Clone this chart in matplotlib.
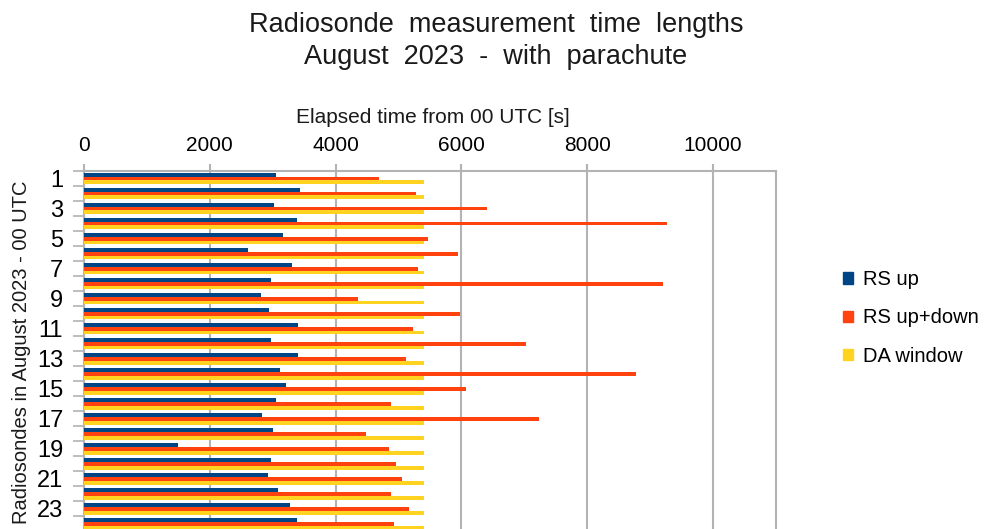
import matplotlib
matplotlib.use("Agg")
import matplotlib.pyplot as plt
from matplotlib.patches import Patch
import numpy as np

# ---- data ----
radiosondes = list(range(1, 25))
rs_up = [3050, 3430, 3020, 3380, 3160, 2610, 3300, 2970, 2810, 2940, 3400, 2970,
         3400, 3110, 3210, 3050, 2830, 3000, 1500, 2970, 2920, 3080, 3270, 3380]
rs_updown = [4690, 5280, 6400, 9260, 5470, 5940, 5310, 9210, 4360, 5970, 5230, 7030,
             5120, 8770, 6080, 4880, 7240, 4490, 4850, 4960, 5060, 4880, 5170, 4930]
da_window = [5400] * 24

series_names = ["RS up", "RS up+down", "DA window"]
colores = ["#004586", "#ff420e", "#ffd320"]

plt.rcParams["font.family"] = ["Liberation Sans", "DejaVu Sans"]

W, H = 987, 529
fig = plt.figure(figsize=(W / 100, H / 100), dpi=100)

# caja de ejes en pixeles: x 84..776, y 170.7..531 (abajo queda cortado)
left, right, top, bottom = 84, 776, 170.7, 531
ax = fig.add_axes([left / W, 1 - bottom / H, (right - left) / W, (bottom - top) / H])

y = np.array(radiosondes, dtype=float)
h = 0.26
for i, (vals, col) in enumerate(zip([rs_up, rs_updown, da_window], colores)):
    ax.barh(y + (i - 1) * h + 0.02, vals, height=h, color=col, zorder=3)

grid_col = "#b3b3b3"
ax.set_xlim(0, 11000)
ax.set_ylim(24.5, 0.5)
ax.xaxis.tick_top()
ax.set_xticks(range(0, 11000, 2000))
ax.tick_params(axis="x", which="major", length=5, width=1.5, color=grid_col,
               labelsize=15, pad=6)
ax.grid(axis="x", color=grid_col, linewidth=1.5, zorder=0)

ax.set_yticks(radiosondes[::2])
ax.set_yticklabels([str(v) for v in radiosondes[::2]])
ax.set_yticks(np.arange(0.5, 25, 1), minor=True)
ax.tick_params(axis="y", which="major", length=0, labelsize=17, pad=15)
ax.tick_params(axis="y", which="minor", length=8, width=1.2, color=grid_col)

for s in ax.spines.values():
    s.set_color(grid_col)
    s.set_linewidth(1.5)

# titulos de ejes
fig.text(433 / W, 1 - 123 / H, "Elapsed time from 00 UTC [s]", ha="center",
         va="baseline", fontsize=15, color="#1a1a1a")
fig.text(22 / W, 1 - 352 / H, "Radiosondes in August 2023 - 00 UTC", ha="center",
         va="center", rotation=90, fontsize=14.5, color="#1a1a1a")

# titulo (dos lineas)
fig.text(496 / W, 1 - 31.7 / H, "Radiosonde  measurement  time  lengths",
         ha="center", va="baseline", fontsize=19.5, color="#1a1a1a")
fig.text(496 / W, 1 - 64.3 / H, "August  2023  -  with  parachute",
         ha="center", va="baseline", fontsize=19.5, color="#1a1a1a")

handles = [Patch(facecolor=c, edgecolor=c) for c in colores]
fig.legend(handles, series_names, loc="center left",
           bbox_to_anchor=(843 / W, 1 - 318 / H), frameon=False, fontsize=14.5,
           handlelength=0.5, handleheight=0.5, handletextpad=0.5,
           labelspacing=0.95, borderpad=0, borderaxespad=0)

fig.savefig("out.png", dpi=100)
